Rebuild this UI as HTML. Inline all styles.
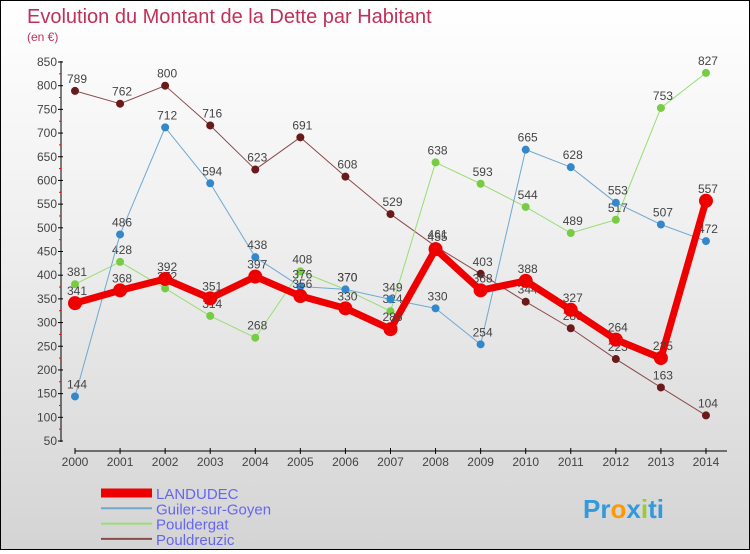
<!DOCTYPE html>
<html><head><meta charset="utf-8"><style>
body{margin:0}
#c{width:748px;height:548px;border:1px solid #000;background:linear-gradient(#fff 0%,#f0f0f0 40%,#d4d4d4 100%);position:relative;font-family:"Liberation Sans",sans-serif}
</style></head><body>
<div id="c">
<svg id="s" width="748" height="548"></svg>
</div>
<script>
const years=["2000","2001","2002","2003","2004","2005","2006","2007","2008","2009","2010","2011","2012","2013","2014"];
const landudec=[341,368,392,351,397,356,330,286,455,368,388,327,264,225,557];
const guiler=[144,486,712,594,438,376,370,349,330,254,665,628,553,507,472];
const pouldergat=[381,428,372,314,268,408,370,324,638,593,544,489,517,753,827];
const pouldreuzic=[789,762,800,716,623,691,608,529,461,403,344,288,223,163,104];
const yTicks=[50,100,150,200,250,300,350,400,450,500,550,600,650,700,750,800,850];
const NS="http://www.w3.org/2000/svg";
const s=document.getElementById('s');
function X(i){return 74+i*45.07;}
function Y(v){return 440-(v-50)*379/800;}
function el(t,a,p){const e=document.createElementNS(NS,t);for(const k in a)e.setAttribute(k,a[k]);(p||s).appendChild(e);return e;}
let t=el('text',{x:26,y:22,'font-size':20,fill:'#c0305a'});t.textContent="Evolution du Montant de la Dette par Habitant";

t=el('text',{x:26,y:40,'font-size':12,fill:'#c0305a'});t.textContent="(en €)";

// axes
let a=el('line',{x1:60,y1:60,x2:60,y2:441,stroke:'#000','stroke-width':1});

a=el('line',{x1:74,y1:450,x2:726,y2:450,stroke:'#000','stroke-width':1});

yTicks.forEach((v,i)=>{el('line',{x1:57,y1:Y(v),x2:62,y2:Y(v),stroke:'#000'});
 if(i<yTicks.length-1)el('line',{x1:58,y1:Y(v+25),x2:60,y2:Y(v+25),stroke:'#f00'});
 const tt=el('text',{x:56,y:Y(v)+4,'font-size':12,fill:'#444','text-anchor':'end'});tt.textContent=v;
 });
years.forEach((y,i)=>{el('line',{x1:X(i),y1:447,x2:X(i),y2:453,stroke:'#000'});
 const tt=el('text',{x:X(i),y:465,'font-size':12,fill:'#444','text-anchor':'middle'});tt.textContent=y;
 });
function series(d,col,w,r,name,dot){
 const g=el('g',{});
 el('polyline',{points:d.map((v,i)=>X(i)+','+Y(v)).join(' '),fill:'none',stroke:col,'stroke-width':w,'stroke-linejoin':'round'},g);
 d.forEach((v,i)=>{const c=el('circle',{cx:X(i),cy:Y(v),r:r,fill:dot},g);
  
  const tt=el('text',{x:X(i)+2,y:Y(v)-8,'font-size':12,fill:'#444','text-anchor':'middle'},g);tt.textContent=v;
  });
}
series(pouldreuzic,'#8a4a4a',1,4,'pouldreuzic','#6a1a1a');
series(pouldergat,'#99dd77',1,4,'pouldergat','#77cc44');
series(guiler,'#70a8d0',1,4,'guiler','#3388cc');
series(landudec,'#ee0000',7,7,'landudec','#ee0000');
const leg=[["LANDUDEC","#ee0000",9],["Guiler-sur-Goyen","#70a8d0",2],["Pouldergat","#99dd77",2],["Pouldreuzic","#8a4a4a",2]];
leg.forEach((l,i)=>{const y=492+i*15.3;const g=el('g',{});
 el('line',{x1:100,y1:y,x2:151,y2:y,stroke:l[1],'stroke-width':l[2]},g);
 const tt=el('text',{x:155,y:y+6,'font-size':15,fill:'#6666ee'},g);tt.textContent=l[0];});
t=el('text',{x:582,y:517,'font-size':26,'font-weight':'bold',fill:'#3399dd'});t.innerHTML='Pr<tspan fill="#ff9900">o</tspan>x<tspan fill="#99cc33">i</tspan>ti';

</script>
</body></html>
